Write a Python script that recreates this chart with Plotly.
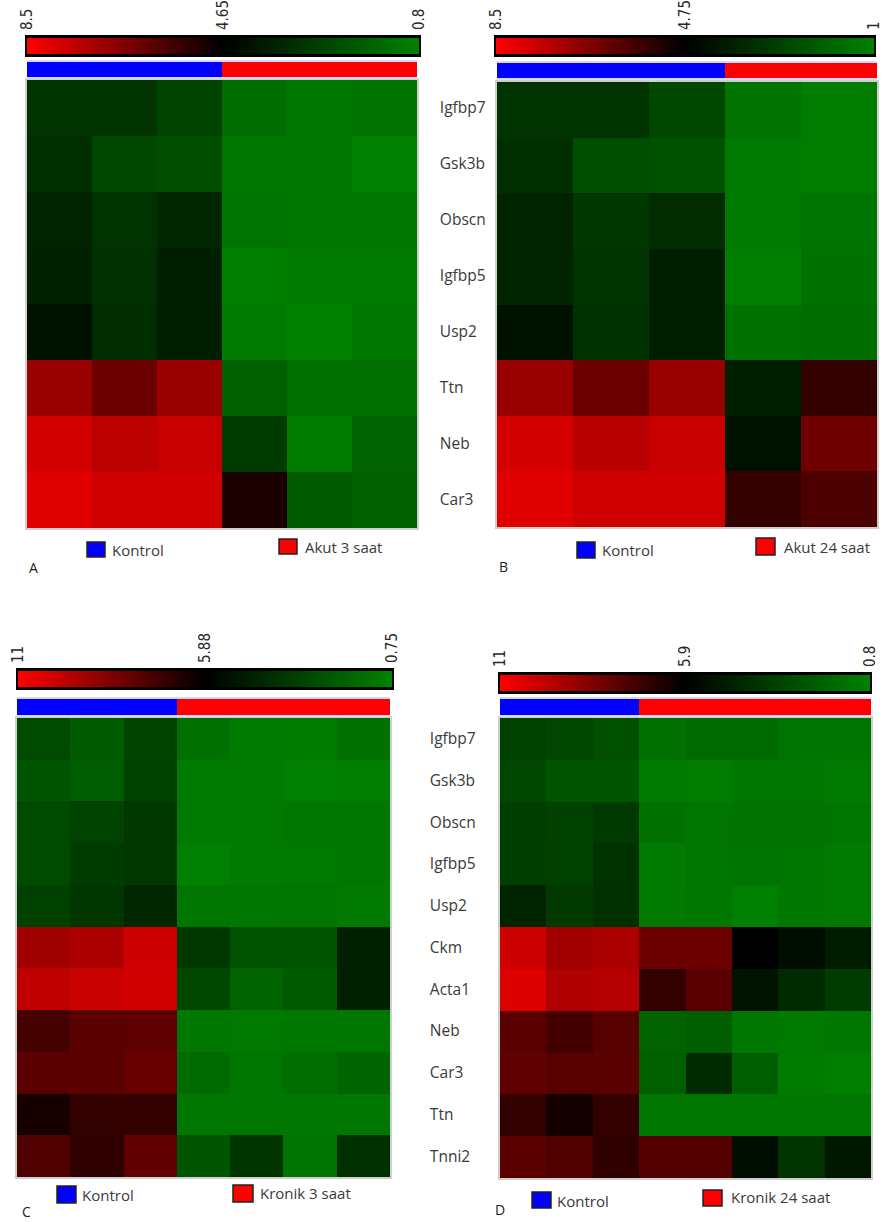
import numpy as np
import plotly.graph_objects as go

W, H = 883, 1222

# ---------------- data ----------------
genes_ab = ["Igfbp7", "Gsk3b", "Obscn", "Igfbp5", "Usp2", "Ttn", "Neb", "Car3"]
genes_cd = ["Igfbp7", "Gsk3b", "Obscn", "Igfbp5", "Usp2", "Ckm", "Acta1",
            "Neb", "Car3", "Ttn", "Tnni2"]

groups_a = ["Kontrol", "Kontrol", "Kontrol", "Akut 3 saat", "Akut 3 saat", "Akut 3 saat"]
values_a = [
    [3.14, 3.14, 2.64, 1.39, 1.13, 1.24],
    [3.29, 2.52, 2.37, 1.19, 1.19, 0.89],
    [3.61, 3.14, 3.50, 1.21, 1.16, 1.16],
    [3.64, 3.26, 3.76, 0.92, 1.07, 1.07],
    [4.15, 3.35, 3.76, 1.04, 0.83, 1.10],
    [6.96, 6.27, 6.96, 1.81, 1.30, 1.33],
    [7.84, 7.47, 7.67, 2.87, 1.01, 1.75],
    [8.03, 7.79, 7.79, 5.06, 1.98, 1.81],
]
scale_a = [8.5, 4.65, 0.8]
scale_text_a = ["8.5", "4.65", "0.8"]

groups_b = ["Kontrol", "Kontrol", "Kontrol", "Akut 24 saat", "Akut 24 saat"]
values_b = [
    [3.28, 3.28, 2.67, 1.43, 1.17],
    [3.42, 2.50, 2.44, 1.26, 1.17],
    [3.74, 3.19, 3.48, 1.26, 1.40],
    [3.71, 3.28, 3.86, 1.12, 1.46],
    [4.26, 3.34, 3.86, 1.46, 1.61],
    [7.00, 6.31, 7.00, 3.88, 5.50],
    [7.87, 7.47, 7.69, 4.29, 6.37],
    [8.04, 7.81, 7.81, 5.50, 5.88],
]
scale_b = [8.5, 4.75, 1.0]
scale_text_b = ["8.5", "4.75", "1"]

groups_c = ["Kontrol", "Kontrol", "Kontrol",
            "Kronik 3 saat", "Kronik 3 saat", "Kronik 3 saat", "Kronik 3 saat"]
values_c = [
    [2.96, 2.33, 3.20, 1.46, 1.07, 1.03, 1.46],
    [2.53, 2.25, 3.35, 1.07, 1.07, 0.87, 0.91],
    [2.96, 3.28, 3.67, 1.11, 1.07, 1.14, 1.18],
    [2.96, 3.51, 3.63, 0.87, 1.07, 1.11, 1.14],
    [3.35, 3.75, 4.34, 1.22, 1.18, 1.22, 1.07],
    [9.09, 9.29, 9.98, 3.63, 2.60, 2.49, 4.62],
    [9.74, 9.90, 10.06, 3.04, 1.89, 2.33, 4.62],
    [7.27, 7.69, 7.77, 1.14, 1.11, 1.14, 1.14],
    [7.69, 7.69, 7.93, 1.66, 1.26, 1.50, 1.89],
    [6.32, 6.90, 6.90, 1.18, 1.18, 1.18, 1.18],
    [7.47, 6.80, 7.81, 2.49, 3.79, 1.30, 4.03],
]
scale_c = [11, 5.88, 0.75]
scale_text_c = ["11", "5.88", "0.75"]

groups_d = ["Kontrol", "Kontrol", "Kontrol",
            "Kronik 24 saat", "Kronik 24 saat", "Kronik 24 saat",
            "Kronik 24 saat", "Kronik 24 saat"]
values_d = [
    [3.39, 3.19, 2.76, 1.51, 1.66, 1.66, 1.35, 1.35],
    [3.15, 2.60, 2.53, 1.11, 1.04, 1.23, 1.23, 1.11],
    [3.47, 3.39, 3.62, 1.43, 1.31, 1.39, 1.39, 1.31],
    [3.43, 3.39, 3.94, 1.11, 1.31, 1.35, 1.31, 1.11],
    [4.53, 3.62, 4.02, 1.11, 1.23, 0.88, 1.19, 1.15],
    [9.98, 9.14, 9.30, 8.02, 8.04, 5.90, 5.39, 4.76],
    [10.32, 9.42, 9.50, 6.92, 7.72, 5.19, 4.25, 3.59],
    [7.70, 7.26, 7.64, 2.02, 2.25, 1.23, 1.15, 1.19],
    [7.82, 7.64, 7.70, 2.13, 4.25, 2.25, 1.07, 0.96],
    [6.92, 6.28, 6.92, 1.27, 1.19, 1.23, 1.23, 1.23],
    [7.72, 7.50, 6.82, 7.54, 7.54, 5.39, 3.90, 4.96],
]
scale_d = [11, 5.9, 0.8]
scale_text_d = ["11", "5.9", "0.8"]

# ---------------- styling / layout ----------------
HEAT_CS = [[0.0, "rgb(0,130,0)"], [0.5, "rgb(0,0,0)"], [1.0, "rgb(255,0,0)"]]
GROUP_CS = [[0.0, "#0000ff"], [0.5, "#0000ff"], [0.5, "#ff0000"], [1.0, "#ff0000"]]
LABEL_FONT = dict(family="Open Sans, Noto Sans, sans-serif", size=15.5, color="#3a3a3a")
CBAR_FONT = dict(family="DejaVu Sans Condensed, Liberation Sans Narrow, Arial Narrow, sans-serif",
                 size=15, color="#2a2a2a")


def dx(x0, x1):
    return [x0 / W, x1 / W]


def dy(y0, y1):
    return [1 - y1 / H, 1 - y0 / H]


panels = [
    dict(genes=genes_ab, values=values_a, groups=groups_a, scale=scale_a, stext=scale_text_a,
         heat=(27, 417, 80, 528), cond=(27, 417, 62, 77), cbar=(27, 419, 38, 54),
         labels=True, standoff=18,
         blue=(87, 105, 542, 557), red=(279, 297, 539, 554),
         btxt=(110, 550), rtxt=(303, 547), letter=("A", 27, 567)),
    dict(genes=genes_ab, values=values_b, groups=groups_b, scale=scale_b, stext=scale_text_b,
         heat=(497, 877, 82, 527), cond=(497, 877, 63, 78), cbar=(496, 874, 38, 54),
         labels=False, standoff=0,
         blue=(577, 595, 542, 558), red=(756, 775, 538, 555),
         btxt=(600, 550), rtxt=(782, 547), letter=("B", 497, 566)),
    dict(genes=genes_cd, values=values_c, groups=groups_c, scale=scale_c, stext=scale_text_c,
         heat=(17, 390, 718, 1177), cond=(17, 390, 699, 715), cbar=(18, 392, 671, 687),
         labels=True, standoff=35,
         blue=(57, 76, 1186, 1203), red=(233, 253, 1185, 1202),
         btxt=(80, 1195), rtxt=(258, 1193), letter=("C", 20, 1211)),
    dict(genes=genes_cd, values=values_d, groups=groups_d, scale=scale_d, stext=scale_text_d,
         heat=(500, 871, 718, 1178), cond=(500, 871, 699, 715), cbar=(500, 870, 675, 691),
         labels=False, standoff=0,
         blue=(532, 551, 1192, 1208), red=(703, 722, 1190, 1206),
         btxt=(555, 1201), rtxt=(729, 1197), letter=("D", 493, 1209)),
]

fig = go.Figure()
layout = dict(width=W, height=H, margin=dict(l=0, r=0, t=0, b=0, pad=0, autoexpand=False),
              paper_bgcolor="white", plot_bgcolor="white", showlegend=False)
shapes, annotations = [], []

ax = 0
for p in panels:
    hi, mid, lo = p["scale"]
    ncol = len(p["groups"])
    cols = list(range(ncol))

    # ---- heatmap ----
    ax += 1
    n = "" if ax == 1 else str(ax)
    fig.add_trace(go.Heatmap(z=p["values"], x=cols, y=p["genes"], zmin=lo, zmax=hi,
                             colorscale=HEAT_CS, showscale=False,
                             xaxis="x" + n, yaxis="y" + n, hoverinfo="skip"))
    x0, x1, y0, y1 = p["heat"]
    layout["xaxis" + n] = dict(domain=dx(x0, x1), anchor="y" + n, range=[-0.5, ncol - 0.5],
                               automargin=False,
                               showticklabels=False, ticks="", showgrid=False, zeroline=False,
                               showline=True, mirror=True, linecolor="#cfcfcf", linewidth=1.5)
    layout["yaxis" + n] = dict(domain=dy(y0, y1), anchor="x" + n, autorange="reversed",
                               automargin=False, ticklabeloverflow="allow",
                               side="right", showticklabels=p["labels"], ticks="",
                               ticklabelstandoff=p["standoff"], tickfont=LABEL_FONT,
                               showgrid=False, zeroline=False,
                               showline=True, mirror=True, linecolor="#cfcfcf", linewidth=1.5)

    # ---- group bar ----
    ax += 1
    n = str(ax)
    gz = [[0 if g == "Kontrol" else 1 for g in p["groups"]]]
    fig.add_trace(go.Heatmap(z=gz, x=cols, y=[0], zmin=0, zmax=1, colorscale=GROUP_CS,
                             showscale=False, xaxis="x" + n, yaxis="y" + n, hoverinfo="skip"))
    x0, x1, y0, y1 = p["cond"]
    layout["xaxis" + n] = dict(domain=dx(x0, x1), anchor="y" + n, range=[-0.5, ncol - 0.5],
                               automargin=False,
                               showticklabels=False, ticks="", showgrid=False, zeroline=False,
                               showline=True, mirror=True, linecolor="#d8d8ff", linewidth=1.5)
    layout["yaxis" + n] = dict(domain=dy(y0, y1), anchor="x" + n, range=[-0.5, 0.5],
                               automargin=False,
                               showticklabels=False, ticks="", showgrid=False, zeroline=False,
                               showline=False)

    # ---- colour key (gradient) ----
    ax += 1
    n = str(ax)
    grad = np.linspace(lo, hi, 300)
    fig.add_trace(go.Heatmap(z=[grad], x=grad, y=[0], zmin=lo, zmax=hi, colorscale=HEAT_CS,
                             showscale=False, xaxis="x" + n, yaxis="y" + n, hoverinfo="skip"))
    x0, x1, y0, y1 = p["cbar"]
    layout["xaxis" + n] = dict(domain=dx(x0, x1), anchor="y" + n, range=[hi, lo],
                               automargin=False, ticklabeloverflow="allow",
                               side="top", tickvals=[hi, mid, lo], ticktext=p["stext"],
                               tickangle=-90, ticks="", tickfont=CBAR_FONT, ticklabelstandoff=2,
                               showgrid=False, zeroline=False,
                               showline=True, mirror=True, linecolor="black", linewidth=3)
    layout["yaxis" + n] = dict(domain=dy(y0, y1), anchor="x" + n, range=[-0.5, 0.5],
                               automargin=False,
                               showticklabels=False, ticks="", showgrid=False, zeroline=False,
                               showline=True, mirror=True, linecolor="black", linewidth=2)

    # ---- legend squares and text ----
    grp_names = [g for i, g in enumerate(p["groups"]) if g not in p["groups"][:i]]
    for (bx0, bx1, by0, by1), (tx, ty), col, name in [
        (p["blue"], p["btxt"], "#0000ff", grp_names[0]),
        (p["red"], p["rtxt"], "#ff0000", grp_names[1]),
    ]:
        shapes.append(dict(type="rect", xref="paper", yref="paper",
                           x0=bx0 / W, x1=bx1 / W, y0=1 - by1 / H, y1=1 - by0 / H,
                           fillcolor=col, line=dict(color="#222222", width=1.5)))
        annotations.append(dict(text=name, x=tx / W, y=1 - ty / H, xref="paper", yref="paper",
                                xanchor="left", yanchor="middle", showarrow=False,
                                font=dict(family="Open Sans, Noto Sans, sans-serif", size=15,
                                          color="#3a3a3a")))
    let, lx, ly = p["letter"]
    annotations.append(dict(text=let, x=lx / W, y=1 - ly / H, xref="paper", yref="paper",
                            xanchor="left", yanchor="middle", showarrow=False,
                            font=dict(family="Open Sans, Noto Sans, sans-serif", size=14,
                                      color="#222222")))

layout["shapes"] = shapes
layout["annotations"] = annotations
fig.update_layout(**layout)
fig.write_html("out.html", config={"displayModeBar": False},
               post_script="document.body.style.margin='0';document.body.style.overflow='hidden';")
